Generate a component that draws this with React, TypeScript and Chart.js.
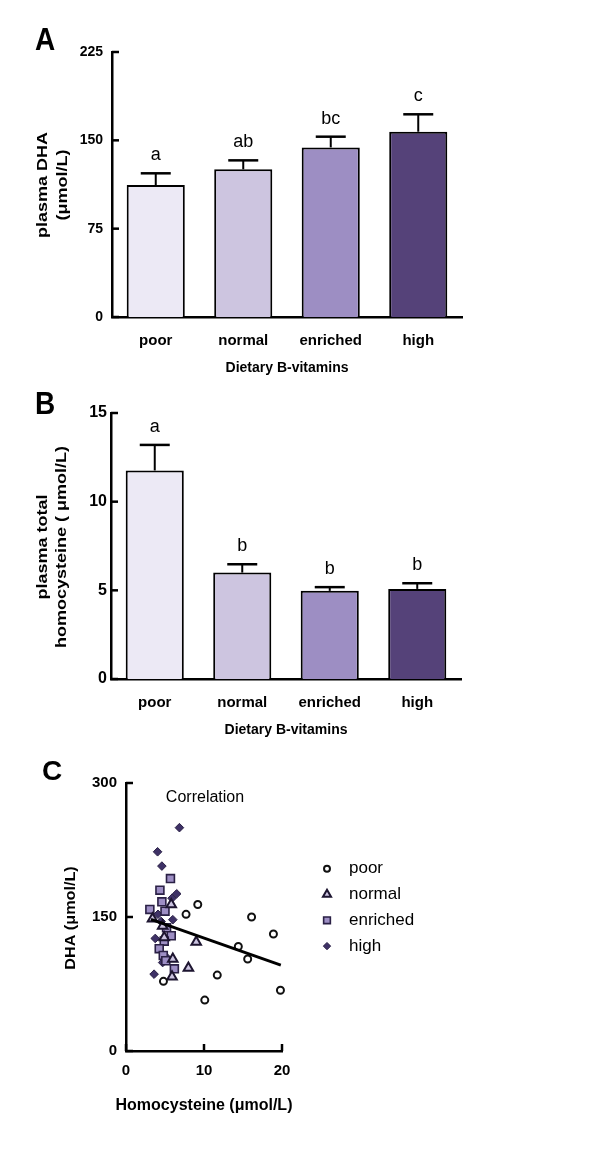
import React, { useEffect, useRef } from 'react';
import { Chart, registerables } from 'chart.js';

Chart.register(...registerables);

const FONT = "'Liberation Sans', Arial, Helvetica, sans-serif";
Chart.defaults.font.family = FONT;
Chart.defaults.color = '#000';

// ---------- data ----------
const categories = ['poor', 'normal', 'enriched', 'high'];
const barColors = ['#ece9f5', '#cdc5e0', '#9d8ec3', '#554279'];

const dhaMean = [112, 125.4, 144, 157.3];
const dhaSem = [10, 7.6, 9.1, 14.8];
const dhaLetters = ['a', 'ab', 'bc', 'c'];
const dhaTicks = [0, 75, 150, 225];

const hcyMean = [11.76, 6.0, 4.97, 5.08];
const hcySem = [1.44, 0.47, 0.21, 0.32];
const hcyLetters = ['a', 'b', 'b', 'b'];
const hcyTicks = [0, 5, 10, 15];

const poorHcy = [4.8, 7.7, 9.2, 16.1, 18.9, 14.4, 15.6, 11.7, 19.8, 10.1];
const poorDha = [78, 153, 164, 150, 131, 117, 103, 85, 68, 57];

const normalHcy = [5.8, 3.4, 4.7, 4.9, 9.0, 6.0, 8.0, 5.9];
const normalDha = [164, 148, 140, 127, 122, 103, 93, 83];

const enrichedHcy = [5.7, 4.35, 4.6, 3.06, 5.0, 5.2, 5.8, 4.9, 4.26, 4.78, 5.1, 6.2];
const enrichedDha = [193, 180, 167, 158.5, 156.5, 138, 129, 123, 114.5, 107, 101, 92];

const highHcy = [6.85, 4.05, 4.6, 6.5, 5.9, 4.1, 6.0, 4.5, 3.75, 5.3, 4.7, 3.6];
const highDha = [250, 223, 207, 176, 171, 153, 147, 145, 126, 104, 99, 86];

const regressionHcy = [3.2, 19.85];
const regressionDha = [147.3, 96.2];

const hcyAxisTicks = [0, 10, 20];
const dhaAxisTicks = [0, 150, 300];

// ---------- helpers ----------
type TextOpts = {
  size: number;
  bold?: boolean;
  align?: CanvasTextAlign;
  baseline?: CanvasTextBaseline;
  rotate?: boolean;
  sx?: number;
  sy?: number;
};

function drawText(ctx: CanvasRenderingContext2D, text: string, x: number, y: number, o: TextOpts) {
  ctx.save();
  ctx.translate(x, y);
  ctx.scale(o.sx ?? 1, o.sy ?? 1);
  if (o.rotate) ctx.rotate(-Math.PI / 2);
  ctx.font = `${o.bold ? 'bold ' : ''}${o.size}px ${FONT}`;
  ctx.fillStyle = '#000';
  ctx.textAlign = o.align ?? 'center';
  ctx.textBaseline = o.baseline ?? 'middle';
  ctx.fillText(text, 0, 0);
  ctx.restore();
}

function drawInwardTicks(chart: any, xTicks: boolean) {
  const { ctx, chartArea } = chart;
  const ys = chart.scales.y;
  ctx.save();
  ctx.strokeStyle = '#000';
  ctx.lineWidth = 2.5;
  ys.ticks.forEach((t: any) => {
    const py = ys.getPixelForValue(t.value);
    ctx.beginPath();
    ctx.moveTo(chartArea.left, py);
    ctx.lineTo(chartArea.left + 7, py);
    ctx.stroke();
  });
  if (xTicks) {
    const xs = chart.scales.x;
    xs.ticks.forEach((t: any) => {
      const px = xs.getPixelForValue(t.value);
      ctx.beginPath();
      ctx.moveTo(px, chartArea.bottom);
      ctx.lineTo(px, chartArea.bottom - 7);
      ctx.stroke();
    });
  }
  ctx.restore();
}

type Area = { left: number; right: number; top: number; bottom: number };

type BarPanel = {
  H: number;
  area: Area;
  means: number[];
  sems: number[];
  letters: string[];
  ticks: number[];
  tickSize: number;
  tickPad: number;
  panel: string;
  panelPos: [number, number];
  titles: { text: string; x: number }[];
  titleY: number;
  xTitleY: number;
};

function makeBar(canvas: HTMLCanvasElement, p: BarPanel) {
  const W = 600;
  const a = p.area;
  const overlay = {
    id: 'overlay' + p.panel,
    afterDatasetsDraw(chart: any) {
      const { ctx } = chart;
      const meta = chart.getDatasetMeta(0);
      const ys = chart.scales.y;
      ctx.save();
      ctx.strokeStyle = '#000';
      p.means.forEach((m, i) => {
        const el = meta.data[i];
        const x = el.x;
        const base = el.y;
        const top = ys.getPixelForValue(m + p.sems[i]);
        ctx.lineWidth = 2;
        ctx.beginPath();
        ctx.moveTo(x, base);
        ctx.lineTo(x, top);
        ctx.stroke();
        ctx.lineWidth = 2.5;
        ctx.beginPath();
        ctx.moveTo(x - 15, top);
        ctx.lineTo(x + 15, top);
        ctx.stroke();
        drawText(ctx, p.letters[i], x, top - 13, { size: 18, baseline: 'alphabetic' });
      });
      ctx.restore();
    },
    afterDraw(chart: any) {
      const { ctx } = chart;
      drawInwardTicks(chart, false);
      drawText(ctx, p.panel, p.panelPos[0], p.panelPos[1], { size: 28, bold: true, sy: 1.1 });
      p.titles.forEach((t) =>
        drawText(ctx, t.text, t.x, p.titleY, { size: 15, bold: true, rotate: true, sy: 1.2 })
      );
      drawText(ctx, 'Dietary B-vitamins', (a.left + a.right) / 2, p.xTitleY, { size: 14, bold: true });
    },
  };
  return new Chart(canvas, {
    type: 'bar',
    data: {
      labels: categories,
      datasets: [
        {
          data: p.means,
          backgroundColor: barColors,
          borderColor: '#000',
          borderWidth: 2,
          barPercentage: 0.664,
          categoryPercentage: 1,
        },
      ],
    },
    options: {
      animation: false,
      responsive: false,
      devicePixelRatio: 1,
      layout: { padding: { top: a.top, right: W - a.right, left: 0, bottom: 0 } },
      plugins: { legend: { display: false }, tooltip: { enabled: false } },
      scales: {
        x: {
          grid: { display: false, drawTicks: false },
          border: { color: '#000', width: 2.5 },
          ticks: { color: '#000', font: { size: 15, weight: 'bold' }, padding: 15 },
          afterFit: (s: any) => {
            s.height = p.H - a.bottom;
          },
        },
        y: {
          min: p.ticks[0],
          max: p.ticks[p.ticks.length - 1],
          grid: { display: false, drawTicks: false },
          border: { color: '#000', width: 2.5 },
          afterBuildTicks: (s: any) => {
            s.ticks = p.ticks.map((v) => ({ value: v }));
          },
          ticks: { color: '#000', font: { size: p.tickSize, weight: 'bold' }, padding: p.tickPad },
          afterFit: (s: any) => {
            s.width = a.left;
          },
        },
      },
    } as any,
    plugins: [overlay],
  });
}

type MarkerStyle = { shape: string; r: number; fill: string; stroke: string; lw: number };

const poorStyle: MarkerStyle = { shape: 'circle', r: 3.5, fill: '#ffffff', stroke: '#111111', lw: 2 };
const normalStyle: MarkerStyle = { shape: 'triangle', r: 5.5, fill: '#cbc3e0', stroke: '#1d1530', lw: 2 };
const enrichedStyle: MarkerStyle = { shape: 'rect', r: 5.6, fill: '#9d8ec4', stroke: '#2a2045', lw: 1.6 };
const highStyle: MarkerStyle = { shape: 'rectRot', r: 4.3, fill: '#3e3166', stroke: '#2a2045', lw: 1 };

function drawLegendMarker(ctx: CanvasRenderingContext2D, s: MarkerStyle, x: number, y: number) {
  ctx.save();
  ctx.fillStyle = s.fill;
  ctx.strokeStyle = s.stroke;
  ctx.lineWidth = s.lw;
  ctx.beginPath();
  if (s.shape === 'circle') {
    ctx.arc(x, y, s.r, 0, Math.PI * 2);
  } else if (s.shape === 'triangle') {
    const r = s.r;
    ctx.moveTo(x, y - r);
    ctx.lineTo(x + r * 0.866, y + r * 0.5);
    ctx.lineTo(x - r * 0.866, y + r * 0.5);
    ctx.closePath();
  } else if (s.shape === 'rect') {
    const h = s.r * Math.SQRT1_2;
    ctx.rect(x - h, y - h, 2 * h, 2 * h);
  } else {
    const r = s.r;
    ctx.moveTo(x, y - r);
    ctx.lineTo(x + r, y);
    ctx.lineTo(x, y + r);
    ctx.lineTo(x - r, y);
    ctx.closePath();
  }
  ctx.fill();
  ctx.stroke();
  ctx.restore();
}

function makeScatter(canvas: HTMLCanvasElement) {
  const W = 600;
  const H = 401;
  const a: Area = { left: 126, right: 282, top: 33, bottom: 301 };
  const pts = (xs: number[], ys: number[]) => xs.map((x, i) => ({ x, y: ys[i] }));
  const ds = (label: string, xs: number[], ys: number[], s: MarkerStyle) => ({
    label,
    data: pts(xs, ys),
    pointStyle: s.shape,
    pointRadius: s.r,
    backgroundColor: s.fill,
    borderColor: s.stroke,
    borderWidth: s.lw,
    showLine: false,
    clip: false,
  });
  const legendItems: [string, MarkerStyle][] = [
    ['poor', poorStyle],
    ['normal', normalStyle],
    ['enriched', enrichedStyle],
    ['high', highStyle],
  ];
  const overlay = {
    id: 'overlayC',
    afterDraw(chart: any) {
      const { ctx } = chart;
      drawInwardTicks(chart, true);
      drawText(ctx, 'C', 52, 22, { size: 28, bold: true });
      drawText(ctx, 'Correlation', 205, 48, { size: 16 });
      drawText(ctx, 'DHA (μmol/L)', 71, 168, { size: 15, bold: true, rotate: true, sy: 1.08 });
      drawText(ctx, 'Homocysteine (μmol/L)', 204, 356, { size: 16, bold: true });
      legendItems.forEach(([t, s], i) => {
        const y = 118.7 + i * 25.8;
        drawLegendMarker(ctx, { ...s, r: s.r * 0.85 }, 327, y);
        drawText(ctx, t, 349, y, { size: 17, align: 'left' });
      });
    },
  };
  return new Chart(canvas, {
    type: 'scatter',
    data: {
      datasets: [
        {
          label: 'fit',
          data: pts(regressionHcy, regressionDha),
          showLine: true,
          borderColor: '#000',
          borderWidth: 2.8,
          pointRadius: 0,
          fill: false,
          clip: false,
        },
        ds('poor', poorHcy, poorDha, poorStyle),
        ds('normal', normalHcy, normalDha, normalStyle),
        ds('enriched', enrichedHcy, enrichedDha, enrichedStyle),
        ds('high', highHcy, highDha, highStyle),
      ],
    },
    options: {
      animation: false,
      responsive: false,
      devicePixelRatio: 1,
      layout: { padding: { top: a.top, right: W - a.right, left: 0, bottom: 0 } },
      plugins: { legend: { display: false }, tooltip: { enabled: false } },
      scales: {
        x: {
          type: 'linear',
          min: hcyAxisTicks[0],
          max: hcyAxisTicks[hcyAxisTicks.length - 1],
          grid: { display: false, drawTicks: false },
          border: { color: '#000', width: 2.5 },
          afterBuildTicks: (s: any) => {
            s.ticks = hcyAxisTicks.map((v) => ({ value: v }));
          },
          ticks: { color: '#000', font: { size: 15, weight: 'bold' }, padding: 11 },
          afterFit: (s: any) => {
            s.height = H - a.bottom;
          },
        },
        y: {
          type: 'linear',
          min: dhaAxisTicks[0],
          max: dhaAxisTicks[dhaAxisTicks.length - 1],
          grid: { display: false, drawTicks: false },
          border: { color: '#000', width: 2.5 },
          afterBuildTicks: (s: any) => {
            s.ticks = dhaAxisTicks.map((v) => ({ value: v }));
          },
          ticks: { color: '#000', font: { size: 15, weight: 'bold' }, padding: 9 },
          afterFit: (s: any) => {
            s.width = a.left;
          },
        },
      },
    } as any,
    plugins: [overlay],
  });
}

const panelA: BarPanel = {
  H: 380,
  area: { left: 112, right: 462, top: 52, bottom: 317 },
  means: dhaMean,
  sems: dhaSem,
  letters: dhaLetters,
  ticks: dhaTicks,
  tickSize: 14,
  tickPad: 9,
  panel: 'A',
  panelPos: [45, 41.5],
  titles: [
    { text: 'plasma DHA', x: 43 },
    { text: '(μmol/L)', x: 63 },
  ],
  titleY: 185,
  xTitleY: 368,
};

const panelB: BarPanel = {
  H: 370,
  area: { left: 111, right: 461, top: 33, bottom: 299 },
  means: hcyMean,
  sems: hcySem,
  letters: hcyLetters,
  ticks: hcyTicks,
  tickSize: 16,
  tickPad: 4,
  panel: 'B',
  panelPos: [45, 26],
  titles: [
    { text: 'plasma total', x: 43 },
    { text: 'homocysteine ( μmol/L)', x: 62 },
  ],
  titleY: 167,
  xTitleY: 350,
};

export default function App() {
  const refA = useRef<HTMLCanvasElement>(null);
  const refB = useRef<HTMLCanvasElement>(null);
  const refC = useRef<HTMLCanvasElement>(null);

  useEffect(() => {
    const charts = [
      makeBar(refA.current!, panelA),
      makeBar(refB.current!, panelB),
      makeScatter(refC.current!),
    ];
    return () => charts.forEach((c) => c.destroy());
  }, []);

  return (
    <div style={{ position: 'absolute', left: 0, top: 0, width: 600, height: 1151, background: '#fff' }}>
      <canvas ref={refA} width={600} height={380} style={{ position: 'absolute', left: 0, top: 0, width: 600, height: 380 }} />
      <canvas ref={refB} width={600} height={370} style={{ position: 'absolute', left: 0, top: 380, width: 600, height: 370 }} />
      <canvas ref={refC} width={600} height={401} style={{ position: 'absolute', left: 0, top: 750, width: 600, height: 401 }} />
    </div>
  );
}
